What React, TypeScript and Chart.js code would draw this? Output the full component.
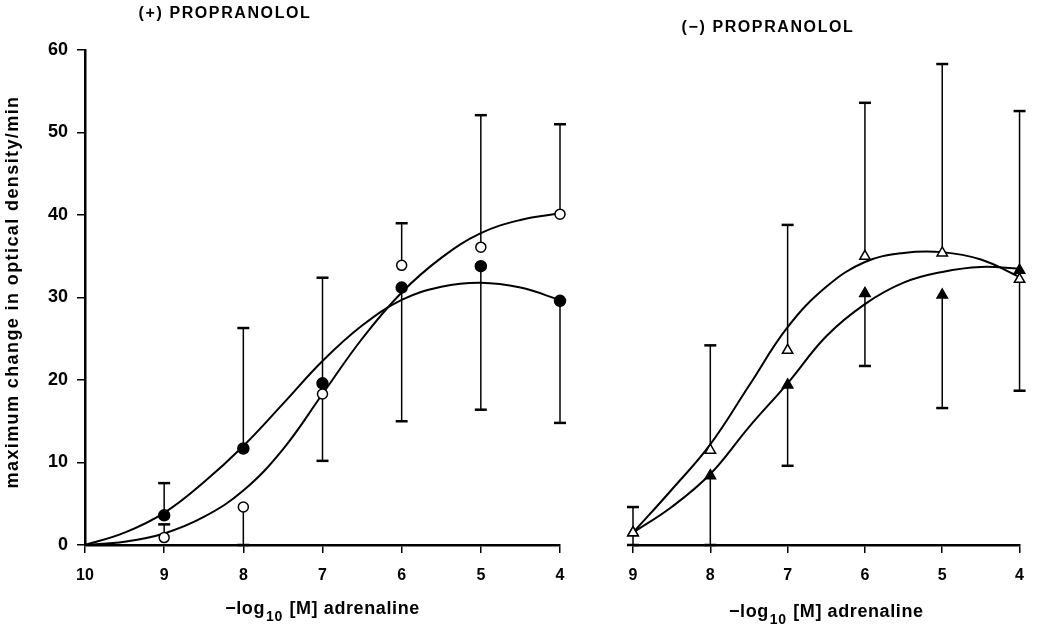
import React, { useEffect, useRef } from "react";
import { Chart, registerables } from "chart.js";

Chart.register(...registerables);

const FONT = "'Liberation Sans', Arial, Helvetica, sans-serif";

// ---------- (+) PROPRANOLOL panel ----------
const leftDoses = [9, 8, 7, 6, 5, 4];
const leftOpen = [0.9, 4.6, 18.3, 33.9, 36.1, 40.1];
const leftOpenUpper = [2.5, null, null, 39.0, 52.1, 51.0];
const leftOpenLower = [null, 0, null, null, null, null];
const leftFilled = [3.6, 11.7, 19.6, 31.2, 33.8, 29.6];
const leftFilledUpper = [7.5, 26.3, 32.4, null, null, null];
const leftFilledLower = [null, null, 10.2, 15.0, 16.4, 14.8];

const leftCurveDoses = [10, 9.5, 9, 8.5, 8, 7.5, 7, 6.5, 6, 5.5, 5, 4.5, 4];
const leftFilledFit = [0, 1.5, 3.9, 7.6, 12.0, 17.1, 22.3, 26.6, 29.7, 31.3, 31.8, 31.2, 29.7];
const leftOpenFit = [0, 0.4, 1.4, 3.4, 6.6, 11.6, 18.3, 25.0, 30.6, 34.8, 37.8, 39.4, 40.2];

// ---------- (-) PROPRANOLOL panel ----------
const rightDoses = [9, 8, 7, 6, 5, 4];
const rightOpen = [1.5, 11.5, 23.6, 35.0, 35.4, 32.2];
const rightOpenUpper = [4.6, 24.2, 38.8, 53.6, 58.3, null];
const rightOpenLower = [null, null, null, null, null, 18.7];
const rightFilled = [1.5, 8.4, 19.4, 30.5, 30.3, 33.3];
const rightFilledUpper = [null, null, null, null, null, 52.6];
const rightFilledLower = [0, 0, 9.6, 21.7, 16.6, null];

const rightCurveDoses = [9, 8.5, 8, 7.5, 7, 6.5, 6, 5.5, 5, 4.5, 4];
const rightOpenFit = [1.5, 6.7, 12.2, 19.3, 26.4, 31.3, 34.3, 35.4, 35.5, 34.6, 32.5];
const rightFilledFit = [1.5, 4.6, 8.6, 14.3, 19.6, 25.3, 29.2, 31.8, 33.1, 33.7, 33.5];

const yTicks = [0, 10, 20, 30, 40, 50, 60];

const toXY = (xs: number[], ys: number[]) => xs.map((x, i) => ({ x, y: ys[i] }));

const errorBarPlugin = {
  id: "errorBars",
  beforeDatasetsDraw(chart: any) {
    const { ctx } = chart;
    const ys = chart.scales.y;
    chart.data.datasets.forEach((ds: any, di: number) => {
      if (!ds.errUpper && !ds.errLower) return;
      const meta = chart.getDatasetMeta(di);
      ctx.save();
      ctx.strokeStyle = "#000";
      meta.data.forEach((pt: any, i: number) => {
        const v = ds.data[i].y;
        const ends = [ds.errUpper ? ds.errUpper[i] : null, ds.errLower ? ds.errLower[i] : null];
        ends.forEach((end: any) => {
          if (end == null) return;
          const y0 = ys.getPixelForValue(v);
          const y1 = ys.getPixelForValue(end);
          ctx.lineWidth = 1.5;
          ctx.beginPath();
          ctx.moveTo(pt.x, y0);
          ctx.lineTo(pt.x, y1);
          ctx.stroke();
          ctx.lineWidth = 2.5;
          ctx.beginPath();
          ctx.moveTo(pt.x - 6, y1);
          ctx.lineTo(pt.x + 6, y1);
          ctx.stroke();
        });
      });
      ctx.restore();
    });
  },
};

const textPlugin = {
  id: "panelText",
  afterDraw(chart: any, _args: any, opts: any) {
    const { ctx, chartArea } = chart;
    ctx.save();
    ctx.fillStyle = "#000";
    // panel title
    ctx.font = `bold 16px ${FONT}`;
    (ctx as any).letterSpacing = "1.6px";
    ctx.textAlign = "center";
    ctx.textBaseline = "middle";
    ctx.fillText(opts.title, opts.titleX, opts.titleY);

    // x axis title with subscript
    (ctx as any).letterSpacing = "0.6px";
    ctx.textAlign = "left";
    ctx.textBaseline = "alphabetic";
    const big = `bold 18px ${FONT}`;
    const small = `bold 14px ${FONT}`;
    const p1 = "\u2212log";
    const p2 = "10";
    const p3 = " [M] adrenaline";
    ctx.font = big;
    const w1 = ctx.measureText(p1).width;
    const w3 = ctx.measureText(p3).width;
    ctx.font = small;
    const w2 = ctx.measureText(p2).width;
    const total = w1 + w2 + w3 + 2;
    let x = (chartArea.left + chartArea.right) / 2 - total / 2;
    const base = opts.xTitleY;
    ctx.font = big;
    ctx.fillText(p1, x, base);
    x += w1 + 1;
    ctx.font = small;
    ctx.fillText(p2, x, base + 7);
    x += w2 + 1;
    ctx.font = big;
    ctx.fillText(p3, x, base);

    if (opts.yTitle) {
      ctx.save();
      ctx.translate(opts.yTitleX, opts.yTitleY);
      ctx.rotate(-Math.PI / 2);
      ctx.font = `bold 18px ${FONT}`;
      (ctx as any).letterSpacing = "1.4px";
      ctx.textAlign = "center";
      ctx.textBaseline = "middle";
      ctx.fillText(opts.yTitle, 0, 0);
      ctx.restore();
    }
    ctx.restore();
  },
};

function pointDs(label: string, xs: number[], ys: number[], style: string, filled: boolean, radius: number, up: any[], lo: any[]) {
  return {
    label,
    data: toXY(xs, ys),
    showLine: false,
    pointStyle: style,
    pointRadius: radius,
    pointBackgroundColor: filled ? "#000" : "#fff",
    pointBorderColor: "#000",
    pointBorderWidth: 1.5,
    clip: false,
    errUpper: up,
    errLower: lo,
  };
}

function curveDs(label: string, xs: number[], ys: number[]) {
  return {
    label,
    data: toXY(xs, ys),
    showLine: true,
    pointRadius: 0,
    borderColor: "#000",
    borderWidth: 2,
    tension: 0.4,
    clip: false,
  };
}

function makeOptions(p: any) {
  const xTickFont = { family: FONT, size: 16, weight: "bold" as const };
  const yTickFont = { family: FONT, size: 18, weight: "bold" as const };
  return {
    animation: false,
    responsive: false,
    maintainAspectRatio: false,
    events: [],
    layout: { padding: { top: 50, left: p.padLeft, right: p.padRight, bottom: 0 } },
    plugins: {
      legend: { display: false },
      tooltip: { enabled: false },
      panelText: p.text,
    },
    scales: {
      x: {
        type: "linear",
        min: p.xMin,
        max: p.xMax,
        reverse: true,
        afterFit: (s: any) => {
          s.height = 85;
        },
        ticks: { stepSize: 1, color: "#000", font: xTickFont, padding: 13 },
        grid: { drawOnChartArea: false, drawTicks: true, tickLength: 8, color: "#000", lineWidth: 1.5 },
        border: { display: true, color: "#000", width: 2.5 },
      },
      y: {
        display: p.showY,
        min: 0,
        max: 60,
        afterFit: (s: any) => {
          s.width = p.showY ? 85 : 0;
        },
        afterBuildTicks: (s: any) => {
          s.ticks = yTicks.map((v) => ({ value: v }));
        },
        ticks: { color: "#000", font: yTickFont, padding: 9 },
        grid: { drawOnChartArea: false, drawTicks: true, tickLength: 8, color: "#000", lineWidth: 1.5 },
        border: { display: true, color: "#000", width: 2.5 },
      },
    },
  };
}

function Panel(props: { width: number; left: number; config: any }) {
  const ref = useRef<HTMLCanvasElement | null>(null);
  useEffect(() => {
    if (!ref.current) return;
    const chart = new Chart(ref.current, props.config);
    return () => chart.destroy();
  }, []);
  return (
    <canvas
      ref={ref}
      width={props.width}
      height={630}
      style={{ position: "absolute", left: props.left, top: 0, width: props.width, height: 630 }}
    />
  );
}

export default function App() {
  const leftConfig: any = {
    type: "scatter",
    data: {
      datasets: [
        pointDs("(+) open circles", leftDoses, leftOpen, "circle", false, 5, leftOpenUpper, leftOpenLower),
        pointDs("(+) filled circles", leftDoses, leftFilled, "circle", true, 5.5, leftFilledUpper, leftFilledLower),
        curveDs("(+) open fit", leftCurveDoses, leftOpenFit),
        curveDs("(+) filled fit", leftCurveDoses, leftFilledFit),
      ],
    },
    options: makeOptions({
      padLeft: 0,
      padRight: 20,
      xMin: 4,
      xMax: 10,
      showY: true,
      text: {
        title: "(+) PROPRANOLOL",
        titleX: 225,
        titleY: 14,
        xTitleY: 614,
        yTitle: "maximum change in optical density/min",
        yTitleX: 13,
        yTitleY: 292,
      },
    }),
    plugins: [errorBarPlugin, textPlugin],
  };

  const rightConfig: any = {
    type: "scatter",
    data: {
      datasets: [
        pointDs("(-) open triangles", rightDoses, rightOpen, "triangle", false, 6, rightOpenUpper, rightOpenLower),
        pointDs("(-) filled triangles", rightDoses, rightFilled, "triangle", true, 6, rightFilledUpper, rightFilledLower),
        curveDs("(-) open fit", rightCurveDoses, rightOpenFit),
        curveDs("(-) filled fit", rightCurveDoses, rightFilledFit),
      ],
    },
    options: makeOptions({
      padLeft: 53,
      padRight: 16,
      xMin: 4,
      xMax: 9,
      showY: false,
      text: {
        title: "(\u2212) PROPRANOLOL",
        titleX: 188,
        titleY: 28,
        xTitleY: 617,
      },
    }),
    plugins: [errorBarPlugin, textPlugin],
  };

  return (
    <div style={{ position: "fixed", left: 0, top: 0, width: 1037, height: 630, background: "#fff" }}>
      <Panel width={580} left={0} config={leftConfig} />
      <Panel width={457} left={580} config={rightConfig} />
    </div>
  );
}
